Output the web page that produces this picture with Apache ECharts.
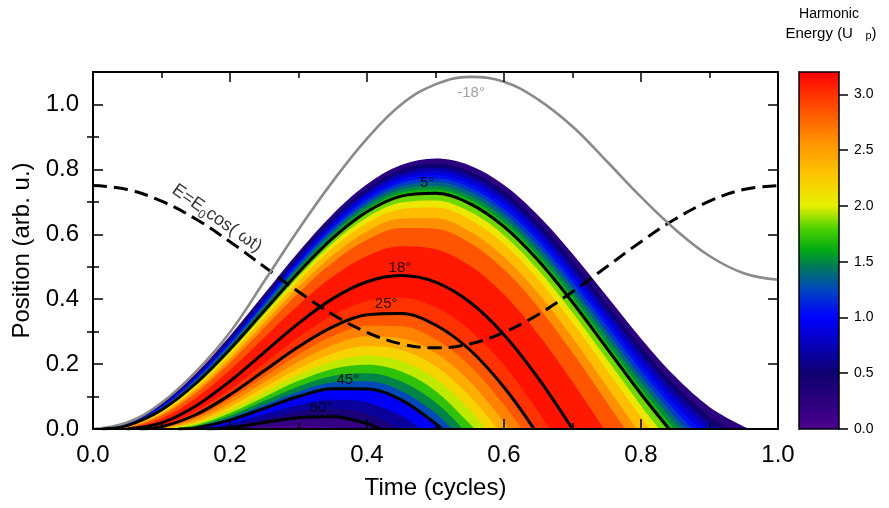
<!DOCTYPE html>
<html><head><meta charset="utf-8">
<script src="https://cdn.jsdelivr.net/npm/echarts@6/dist/echarts.min.js"></script>
<style>html,body{margin:0;padding:0;background:#fff}#c{width:889px;height:508px}</style>
</head><body><div id="c"></div>
<script>
// ---- data ----
// trajectories [time (cycles), position (arb. u.)] for several birth phases
const trajP03 = [[0,0],[0.05,0.0199],[0.1,0.0788],[0.15,0.1711],[0.2,0.2875],[0.25,0.4166],[0.3,0.5457],[0.35,0.6620],[0.4,0.7543],[0.45,0.8132],[0.5,0.8331],[0.55,0.8119],[0.6,0.7515],[0.65,0.6579],[0.7,0.5401],[0.75,0.4097],[0.8,0.2792],[0.85,0.1614],[0.9,0.0678],[0.95,0.0074],[0.96,0]];
const trajP1 = [[0.003,0],[0.05,0.0183],[0.1,0.0757],[0.15,0.1663],[0.2,0.2811],[0.25,0.4085],[0.3,0.5360],[0.35,0.6508],[0.4,0.7414],[0.45,0.7988],[0.5,0.8170],[0.55,0.7942],[0.6,0.7322],[0.65,0.6370],[0.7,0.5176],[0.75,0.3855],[0.8,0.2534],[0.85,0.1340],[0.9,0.0388],[0.928,0]];
const trajP1h = [[0.004,0],[0.05,0.0172],[0.1,0.0735],[0.15,0.1629],[0.2,0.2765],[0.25,0.4029],[0.3,0.5292],[0.35,0.6428],[0.4,0.7323],[0.45,0.7885],[0.5,0.8056],[0.55,0.7816],[0.6,0.7185],[0.65,0.6221],[0.7,0.5016],[0.75,0.3683],[0.8,0.2351],[0.85,0.1145],[0.9,0.0182],[0.913,0]];
const trajP2 = [[0.006,0],[0.05,0.0162],[0.1,0.0713],[0.15,0.1596],[0.2,0.2721],[0.25,0.3972],[0.3,0.5224],[0.35,0.6349],[0.4,0.7232],[0.45,0.7783],[0.5,0.7942],[0.55,0.7691],[0.6,0.7048],[0.65,0.6073],[0.7,0.4856],[0.75,0.3512],[0.8,0.2168],[0.85,0.0951],[0.899,0]];
const trajP2h = [[0.007,0],[0.05,0.0152],[0.1,0.0691],[0.15,0.1563],[0.2,0.2676],[0.25,0.3916],[0.3,0.5156],[0.35,0.6270],[0.4,0.7141],[0.45,0.7681],[0.5,0.7828],[0.55,0.7566],[0.6,0.6911],[0.65,0.5925],[0.7,0.4696],[0.75,0.3341],[0.8,0.1985],[0.85,0.0757],[0.887,0]];
const trajP3 = [[0.008,0],[0.05,0.0142],[0.1,0.0670],[0.15,0.1530],[0.2,0.2632],[0.25,0.3860],[0.3,0.5089],[0.35,0.6191],[0.4,0.7051],[0.45,0.7579],[0.5,0.7715],[0.55,0.7441],[0.6,0.6775],[0.65,0.5777],[0.7,0.4537],[0.75,0.3170],[0.8,0.1803],[0.85,0.0563],[0.876,0]];
const trajP3h = [[0.010,0],[0.05,0.0133],[0.1,0.0649],[0.15,0.1497],[0.2,0.2588],[0.25,0.3805],[0.3,0.5022],[0.35,0.6113],[0.4,0.6961],[0.45,0.7477],[0.5,0.7602],[0.55,0.7316],[0.6,0.6639],[0.65,0.5629],[0.7,0.4378],[0.75,0.3000],[0.8,0.1621],[0.85,0.0370],[0.867,0]];
const trajP4 = [[0.011,0],[0.05,0.0124],[0.1,0.0628],[0.15,0.1465],[0.2,0.2544],[0.25,0.3750],[0.3,0.4956],[0.35,0.6035],[0.4,0.6872],[0.45,0.7376],[0.5,0.7490],[0.55,0.7192],[0.6,0.6504],[0.65,0.5482],[0.7,0.4219],[0.75,0.2830],[0.8,0.1440],[0.85,0.0177],[0.858,0]];
const trajP4h = [[0.0125,0],[0.05,0.0115],[0.1,0.0608],[0.15,0.1434],[0.2,0.2501],[0.25,0.3695],[0.3,0.4890],[0.35,0.5957],[0.4,0.6783],[0.45,0.7276],[0.5,0.7378],[0.55,0.7069],[0.6,0.6368],[0.65,0.5336],[0.7,0.4061],[0.75,0.2660],[0.8,0.1259],[0.849,0]];
const trajP5 = [[0.014,0],[0.05,0.0106],[0.1,0.0588],[0.15,0.1402],[0.2,0.2458],[0.25,0.3641],[0.3,0.4824],[0.35,0.5880],[0.4,0.6694],[0.45,0.7176],[0.5,0.7266],[0.55,0.6946],[0.6,0.6234],[0.65,0.5190],[0.7,0.3904],[0.75,0.2491],[0.8,0.1078],[0.841,0]];
const trajP6 = [[0.017,0],[0.05,0.0090],[0.1,0.0549],[0.15,0.1340],[0.2,0.2374],[0.25,0.3533],[0.3,0.4693],[0.35,0.5726],[0.4,0.6517],[0.45,0.6976],[0.5,0.7044],[0.55,0.6700],[0.6,0.5966],[0.65,0.4899],[0.7,0.3590],[0.75,0.2154],[0.8,0.0718],[0.8265,0]];
const trajP7 = [[0.019,0],[0.05,0.0076],[0.1,0.0512],[0.15,0.1280],[0.2,0.2290],[0.25,0.3427],[0.3,0.4564],[0.35,0.5574],[0.4,0.6343],[0.45,0.6779],[0.5,0.6823],[0.55,0.6457],[0.6,0.5699],[0.65,0.4610],[0.7,0.3278],[0.75,0.1819],[0.8,0.0361],[0.813,0]];
const trajP8h = [[0.024,0],[0.05,0.0056],[0.1,0.0458],[0.15,0.1192],[0.2,0.2168],[0.25,0.3271],[0.3,0.4374],[0.35,0.5350],[0.4,0.6083],[0.45,0.6485],[0.5,0.6496],[0.55,0.6095],[0.6,0.5303],[0.65,0.4179],[0.7,0.2813],[0.75,0.1320],[0.794,0]];
const trajP10 = [[0.028,0],[0.05,0.0040],[0.1,0.0407],[0.15,0.1107],[0.2,0.2049],[0.25,0.3118],[0.3,0.4187],[0.35,0.5128],[0.4,0.5828],[0.45,0.6196],[0.5,0.6172],[0.55,0.5738],[0.6,0.4912],[0.65,0.3754],[0.7,0.2354],[0.75,0.0827],[0.777,0]];
const trajP13 = [[0.036,0],[0.05,0.0015],[0.1,0.0315],[0.15,0.0948],[0.2,0.1822],[0.25,0.2823],[0.3,0.3824],[0.35,0.4698],[0.4,0.5330],[0.45,0.5630],[0.5,0.5539],[0.55,0.5036],[0.6,0.4143],[0.65,0.2917],[0.7,0.1449],[0.746,0]];
const trajP18 = [[0.05,0],[0.1,0.0189],[0.15,0.0710],[0.2,0.1473],[0.25,0.2364],[0.3,0.3254],[0.35,0.4017],[0.4,0.4538],[0.45,0.4727],[0.5,0.4525],[0.55,0.3912],[0.6,0.2907],[0.65,0.1570],[0.70,0]];
const trajP22 = [[0.061,0],[0.1,0.0112],[0.15,0.0547],[0.2,0.1223],[0.25,0.2027],[0.3,0.2830],[0.35,0.3507],[0.4,0.3942],[0.45,0.4044],[0.5,0.3756],[0.55,0.3056],[0.6,0.1965],[0.65,0.0541],[0.667,0]];
const trajP25 = [[0.069,0],[0.1,0.0068],[0.15,0.0439],[0.2,0.1053],[0.25,0.1793],[0.3,0.2533],[0.35,0.3146],[0.4,0.3518],[0.45,0.3557],[0.5,0.3205],[0.55,0.2442],[0.6,0.1287],[0.644,0]];
const trajP27h = [[0.076,0],[0.1,0.0040],[0.15,0.0360],[0.2,0.0922],[0.25,0.1610],[0.3,0.2298],[0.35,0.2860],[0.4,0.3180],[0.45,0.3168],[0.5,0.2764],[0.55,0.1949],[0.6,0.0743],[0.626,0]];
const trajP30 = [[0.083,0],[0.1,0.0020],[0.15,0.0289],[0.2,0.0800],[0.25,0.1438],[0.3,0.2076],[0.35,0.2588],[0.4,0.2857],[0.45,0.2794],[0.5,0.2340],[0.55,0.1474],[0.6,0.0218],[0.607,0]];
const trajP32h = [[0.090,0],[0.1,0.0007],[0.15,0.0227],[0.2,0.0689],[0.25,0.1278],[0.3,0.1866],[0.35,0.2328],[0.4,0.2548],[0.45,0.2436],[0.5,0.1933],[0.55,0.1018],[0.590,0]];
const trajP35 = [[0.097,0],[0.15,0.0173],[0.2,0.0587],[0.25,0.1128],[0.3,0.1669],[0.35,0.2083],[0.4,0.2255],[0.45,0.2095],[0.5,0.1544],[0.55,0.0582],[0.573,0]];
const trajP37h = [[0.104,0],[0.15,0.0127],[0.2,0.0495],[0.25,0.0989],[0.3,0.1484],[0.35,0.1852],[0.4,0.1977],[0.45,0.1771],[0.5,0.1173],[0.55,0.0164],[0.557,0]];
const trajP40 = [[0.111,0],[0.15,0.0089],[0.2,0.0412],[0.25,0.0861],[0.3,0.1311],[0.35,0.1634],[0.4,0.1715],[0.45,0.1463],[0.5,0.0821],[0.54,0]];
const trajP42h = [[0.118,0],[0.15,0.0058],[0.2,0.0338],[0.25,0.0744],[0.3,0.1150],[0.35,0.1430],[0.4,0.1468],[0.45,0.1173],[0.5,0.0487],[0.5245,0]];
const trajP45 = [[0.125,0],[0.15,0.0034],[0.2,0.0273],[0.25,0.0637],[0.3,0.1002],[0.35,0.1240],[0.4,0.1236],[0.45,0.0900],[0.5,0.0172],[0.509,0]];
const trajP50 = [[0.139,0],[0.15,0.0006],[0.2,0.0167],[0.25,0.0454],[0.3,0.0741],[0.35,0.0901],[0.4,0.0819],[0.45,0.0405],[0.478,0]];
const trajP55 = [[0.153,0],[0.2,0.0090],[0.25,0.0307],[0.3,0.0524],[0.35,0.0614],[0.4,0.0462],[0.448,0]];
const trajP60 = [[0.167,0],[0.2,0.0041],[0.25,0.0196],[0.3,0.0350],[0.35,0.0379],[0.4,0.0165],[0.419,0]];
const trajP70 = [[0.194,0],[0.25,0.0059],[0.3,0.0116],[0.35,0.0048],[0.361,0]];

// filled bands (outer trajectory of each band) and the harmonic energy (Up) of each band
const bandTrajs = [trajP03, trajP1, trajP1h, trajP2, trajP2h, trajP3, trajP3h, trajP4, trajP4h, trajP5, trajP6, trajP7, trajP8h, trajP10, trajP13, trajP18, trajP22, trajP25, trajP27h, trajP30, trajP32h, trajP35, trajP37h, trajP40, trajP42h, trajP45, trajP50, trajP55, trajP60, trajP70];
const bandEnergy = [0.27, 0.50, 0.69, 0.88, 1.05, 1.21, 1.37, 1.51, 1.65, 1.84, 2.07, 2.32, 2.58, 2.85, 3.10, 3.13, 3.00, 2.84, 2.64, 2.42, 2.19, 1.95, 1.72, 1.49, 1.26, 0.97, 0.65, 0.40, 0.17, 0.03];

// highlighted trajectories
const lineTrajs = [trajP5, trajP18, trajP25, trajP45, trajP60];
const curveLabelText = ['5°', '18°', '25°', '45°', '60°', '-18°'];
const curveLabelAt = [[0.488,0.757],[0.448,0.498],[0.428,0.385],[0.372,0.151],[0.333,0.065],[0.552,1.037]];

// -18° trajectory (grey)
const greyT = [0,0.05,0.1,0.15,0.2,0.25,0.3,0.35,0.4,0.45,0.5,0.55,0.6,0.65,0.7,0.75,0.8,0.85,0.9,0.95,1.0];
const greyX = [0,0.020,0.081,0.176,0.298,0.455,0.615,0.763,0.895,1.0,1.062,1.085,1.07,1.015,0.932,0.825,0.715,0.615,0.533,0.48,0.46];

// field E = E0 cos(wt) (dashed)
const fieldT = [0,0.05,0.1,0.15,0.2,0.25,0.3,0.35,0.4,0.45,0.5,0.55,0.6,0.65,0.7,0.75,0.8,0.85,0.9,0.95,1.0];
const fieldY = [0.75,0.738,0.702,0.647,0.577,0.5,0.423,0.353,0.298,0.262,0.25,0.262,0.298,0.353,0.423,0.5,0.577,0.647,0.702,0.738,0.75];
const fieldLabelAt = [0.181, 0.649];

// ticks
const yMajor = [0, 0.2, 0.4, 0.6, 0.8, 1.0];
const yMinor = [0.1, 0.3, 0.5, 0.7, 0.9];
const cbarTicks = [0, 0.5, 1.0, 1.5, 2.0, 2.5, 3.0];
const cbarMax = 3.2;

// ---- colour map (style) ----
const cmapStops = [[0,[74,0,142]],[0.5,[14,0,112]],[1.0,[0,0,255]],[1.25,[0,70,190]],[1.45,[0,120,90]],[1.6,[0,170,20]],[1.8,[80,210,0]],[2.0,[230,240,0]],[2.3,[255,195,0]],[2.6,[255,140,0]],[3.0,[255,50,0]],[3.2,[255,0,0]]];
function cmap(e){
  if (e <= cmapStops[0][0]) return 'rgb(' + cmapStops[0][1].join(',') + ')';
  for (let i = 0; i < cmapStops.length - 1; i++) {
    const a = cmapStops[i], b = cmapStops[i+1];
    if (e <= b[0]) {
      const f = (e - a[0]) / (b[0] - a[0]);
      const c = a[1].map((v, k) => Math.round(v + (b[1][k] - v) * f));
      return 'rgb(' + c.join(',') + ')';
    }
  }
  return 'rgb(' + cmapStops[cmapStops.length-1][1].join(',') + ')';
}

const FONT = 'Liberation Sans, Arial, Helvetica, sans-serif';
const chart = echarts.init(document.getElementById('c'), null, {renderer: 'canvas'});

const series = [];
bandTrajs.forEach((d, i) => {
  const col = cmap(bandEnergy[i]);
  series.push({type: 'line', xAxisIndex: 0, yAxisIndex: 0, data: d, smooth: 0.35, symbol: 'none',
    lineStyle: {width: 0}, areaStyle: {color: col, opacity: 1}, silent: true, z: 2});
});
series.push({type: 'line', xAxisIndex: 0, yAxisIndex: 0, data: fieldT.map((t, i) => [t, fieldY[i]]),
  smooth: 0.4, symbol: 'none', lineStyle: {color: '#000', width: 3, type: [14, 7]}, silent: true, z: 3});
series.push({type: 'line', xAxisIndex: 0, yAxisIndex: 0, data: greyT.map((t, i) => [t, greyX[i]]),
  smooth: 0.4, symbol: 'none', lineStyle: {color: '#8a8a8a', width: 2.6}, silent: true, z: 3});
lineTrajs.forEach(d => {
  series.push({type: 'line', xAxisIndex: 0, yAxisIndex: 0, data: d, smooth: 0.35, symbol: 'none',
    lineStyle: {color: '#000', width: 3}, silent: true, z: 4});
});
series.push({type: 'scatter', xAxisIndex: 0, yAxisIndex: 0, symbolSize: 0, silent: true, z: 6,
  data: curveLabelText.map((s, i) => ({value: curveLabelAt[i], name: s,
    label: {show: true, position: 'inside', formatter: s, fontSize: 15, fontFamily: FONT,
      color: s.charAt(0) === '-' ? '#8a8a8a' : '#000'}}))});
series.push({type: 'scatter', xAxisIndex: 0, yAxisIndex: 0, symbolSize: 0, silent: true, z: 6,
  data: [{value: fieldLabelAt, label: {show: true, position: 'inside', rotate: -35,
    formatter: 'E=E{sub|0}cos( ωt)', fontSize: 18, fontFamily: FONT, color: '#000', lineHeight: 24,
    rich: {sub: {fontSize: 12, lineHeight: 12, verticalAlign: 'bottom', fontFamily: FONT, color: '#000'}}}}]});
// colour bar
const cbGrad = new echarts.graphic.LinearGradient(0, 0, 0, 1,
  cmapStops.map(s => ({offset: 1 - s[0] / cbarMax, color: 'rgb(' + s[1].join(',') + ')'})).reverse());
series.push({type: 'bar', xAxisIndex: 2, yAxisIndex: 4, data: [cbarMax], barWidth: '100%', silent: true,
  itemStyle: {color: cbGrad}, z: 2});

const lineBlack = {show: true, onZero: false, lineStyle: {color: '#000', width: 2}};
const lineCb = {show: true, onZero: false, lineStyle: {color: '#000', width: 1.5}};
const tickIn = {show: true, inside: true, length: 10, lineStyle: {color: '#000', width: 1.5}};
const minorIn = {show: true, splitNumber: 2, length: 6, lineStyle: {color: '#000', width: 1.5}};
const labelStyle = {color: '#000', fontSize: 24, fontFamily: FONT, formatter: v => v.toFixed(1)};

chart.setOption({
  animation: false,
  textStyle: {fontFamily: FONT},
  grid: [
    {left: 93, top: 72, width: 685, height: 357, outerBoundsMode: 'none', containLabel: false},
    {left: 799, top: 72, width: 40, height: 357, outerBoundsMode: 'none', containLabel: false}
  ],
  xAxis: [
    {type: 'value', gridIndex: 0, min: 0, max: 1, interval: 0.2, position: 'bottom', z: 10,
     axisLine: lineBlack, axisTick: tickIn, minorTick: minorIn, splitLine: {show: false},
     axisLabel: Object.assign({margin: 14}, labelStyle),
     name: 'Time (cycles)', nameLocation: 'middle', nameGap: 47,
     nameTextStyle: {color: '#000', fontSize: 24, fontFamily: FONT}},
    {type: 'value', gridIndex: 0, min: 0, max: 1, interval: 0.2, position: 'top', z: 10,
     axisLine: lineBlack, axisTick: tickIn, minorTick: minorIn, splitLine: {show: false},
     axisLabel: {show: false}},
    {type: 'category', gridIndex: 1, data: ['cb'], position: 'bottom', z: 10,
     axisLine: lineCb, axisTick: {show: false}, axisLabel: {show: false}},
    {type: 'category', gridIndex: 1, data: ['cb'], position: 'top', z: 10,
     axisLine: lineCb, axisTick: {show: false}, axisLabel: {show: false}}
  ],
  yAxis: [
    {type: 'value', gridIndex: 0, min: 0, max: 1.1, position: 'left', z: 10,
     axisLine: lineBlack, axisTick: Object.assign({customValues: yMajor}, tickIn), splitLine: {show: false},
     axisLabel: Object.assign({margin: 14, customValues: yMajor}, labelStyle),
     name: 'Position (arb. u.)', nameLocation: 'middle', nameGap: 54,
     nameTextStyle: {color: '#000', fontSize: 24, fontFamily: FONT}},
    {type: 'value', gridIndex: 0, min: 0, max: 1.1, position: 'right', z: 10,
     axisLine: lineBlack, axisTick: Object.assign({customValues: yMajor}, tickIn), splitLine: {show: false},
     axisLabel: {show: false}},
    {type: 'value', gridIndex: 0, min: 0, max: 1.1, position: 'left', z: 10,
     axisLine: {show: false}, axisTick: {show: true, inside: true, length: 6, customValues: yMinor, lineStyle: {color: '#000', width: 1.5}},
     splitLine: {show: false}, axisLabel: {show: false}},
    {type: 'value', gridIndex: 0, min: 0, max: 1.1, position: 'right', z: 10,
     axisLine: {show: false}, axisTick: {show: true, inside: true, length: 6, customValues: yMinor, lineStyle: {color: '#000', width: 1.5}},
     splitLine: {show: false}, axisLabel: {show: false}},
    {type: 'value', gridIndex: 1, min: 0, max: cbarMax, position: 'left', z: 10,
     axisLine: lineCb, axisTick: {show: false}, splitLine: {show: false}, axisLabel: {show: false}},
    {type: 'value', gridIndex: 1, min: 0, max: cbarMax, position: 'right', z: 10,
     axisLine: lineCb,
     axisTick: {show: true, inside: false, length: 9, customValues: cbarTicks, lineStyle: {color: '#000', width: 1.5}},
     splitLine: {show: false},
     axisLabel: {show: true, customValues: cbarTicks, margin: 15, color: '#000', fontSize: 14, fontFamily: FONT, formatter: v => v.toFixed(1)}}
  ],
  graphic: [
    {type: 'text', x: 829, y: 14, z: 20, style: {text: 'Harmonic', font: '14px ' + FONT, fill: '#000', align: 'center', verticalAlign: 'middle'}},
    {type: 'text', x: 831, y: 34, z: 20, style: {text: 'Energy (U   {sub|p})', font: '15px ' + FONT, fill: '#000', align: 'center', verticalAlign: 'middle',
      rich: {sub: {font: '11px ' + FONT, fill: '#000', lineHeight: 10, verticalAlign: 'bottom'}}}}
  ],
  series: series
});
</script>
</body></html>
